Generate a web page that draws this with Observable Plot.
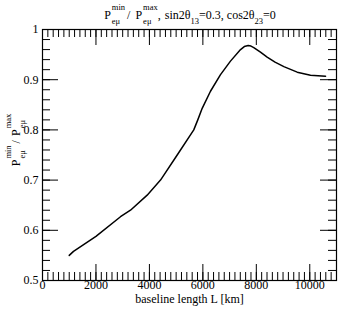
<!DOCTYPE html>
<html><head><meta charset="utf-8">
<script src="https://cdn.jsdelivr.net/npm/d3@7"></script>
<script src="https://cdn.jsdelivr.net/npm/@observablehq/plot@0.6"></script>
<style>body{margin:0;background:#fff} svg{display:block}</style>
</head><body><div id="chart"></div>
<script>
const baseline = [1000,1160,2000,2918,3292,3916,4415,4540,5040,5660,5810,5975,6285,6660,7033,7410,7550,7695,7800,7905,8155,8405,8700,9030,9530,10027,10590];
const ratio    = [0.55,0.558,0.588,0.627,0.64,0.67,0.70,0.71,0.75,0.80,0.82,0.843,0.877,0.91,0.937,0.96,0.966,0.968,0.967,0.964,0.955,0.945,0.935,0.926,0.915,0.909,0.907];
const xMajor = [0,2000,4000,6000,8000,10000];
const yMajor = [0.5,0.6,0.7,0.8,0.9,1];
const xMinor = d3.range(0, 11001, 200);
const yMinor = d3.range(0, 26).map(i => 0.5 + i*0.02);
const xLabel = "baseline length L [km]";

const data = baseline.map((L,i) => ({L, r: ratio[i]}));

const W = 338, H = 309, mL = 42, mR = 2, mT = 29, mB = 29;
const pw = W - mL - mR, ph = H - mT - mB;
const minor = 8, major = 16;

const svg = Plot.plot({
  width: W, height: H, marginLeft: mL, marginRight: mR, marginTop: mT, marginBottom: mB,
  x: {domain: [0, 11000]},
  y: {domain: [0.5, 1]},
  style: {fontFamily: "Liberation Serif", fontSize: "12px", background: "white", color: "black"},
  marks: [
    Plot.ruleX(xMinor, {x: d => d, insetBottom: ph - minor, stroke: "black", strokeWidth: 1}),
    Plot.ruleX(xMinor, {x: d => d, insetTop: ph - minor, stroke: "black", strokeWidth: 1}),
    Plot.ruleX(xMajor, {x: d => d, insetBottom: ph - major, stroke: "black", strokeWidth: 1}),
    Plot.ruleX(xMajor, {x: d => d, insetTop: ph - major, stroke: "black", strokeWidth: 1}),
    Plot.ruleY(yMinor, {y: d => d, insetRight: pw - minor, stroke: "black", strokeWidth: 1}),
    Plot.ruleY(yMinor, {y: d => d, insetLeft: pw - minor, stroke: "black", strokeWidth: 1}),
    Plot.ruleY(yMajor, {y: d => d, insetRight: pw - major, stroke: "black", strokeWidth: 1}),
    Plot.ruleY(yMajor, {y: d => d, insetLeft: pw - major, stroke: "black", strokeWidth: 1}),
    Plot.axisX({ticks: xMajor, tickSize: 0, tickPadding: 0, label: null, tickFormat: d => String(d), fontSize: 12}),
    Plot.axisY({ticks: yMajor, tickSize: 0, tickPadding: 4, label: null, tickFormat: d => String(d), fontSize: 12}),
    Plot.frame({stroke: "black", strokeWidth: 1.2}),
    Plot.line(data, {x: "L", y: "r", stroke: "black", strokeWidth: 1.5}),
    Plot.text([xLabel], {frameAnchor: "bottom", dy: 22.5, fontSize: 12, text: d => d})
  ]
});
document.getElementById("chart").appendChild(svg);

const NS = "http://www.w3.org/2000/svg";
function rich(segs, x, y, rotate) {
  const g = document.createElementNS(NS, "g");
  g.setAttribute("font-family", "Liberation Serif");
  g.setAttribute("fill", "black");
  g.setAttribute("text-anchor", "start");
  svg.appendChild(g);
  let cx = 0;
  function mk(t, size, dy) {
    const e = document.createElementNS(NS, "text");
    e.setAttribute("x", cx); e.setAttribute("y", dy);
    e.setAttribute("font-size", size);
    e.setAttribute("text-anchor", "start");
    e.textContent = t;
    g.appendChild(e);
    return e.getComputedTextLength();
  }
  for (const s of segs) {
    if (typeof s === "string") cx += mk(s, 12, 0);
    else if (s.gap != null) cx += s.gap;
    else {
      let w = 0;
      if (s.sup) w = Math.max(w, mk(s.sup, 8.5, -9));
      if (s.sub) w = Math.max(w, mk(s.sub, 8.5, 5));
      cx += w;
    }
  }
  g.setAttribute("transform", `translate(${x},${y}) rotate(${rotate}) translate(${-cx/2},0)`);
}
rich(["P", {gap: 1}, {sup: "min", sub: "eμ"}, {gap: 2}, "/", {gap: 5}, "P", {gap: 1}, {sup: "max", sub: "eμ"}, ",", {gap: 4},
      "sin2θ", {sub: "13"}, "=0.3,", {gap: 3}, "cos2θ", {sub: "23"}, "=0"], 190, 18.5, 0);
rich(["P", {gap: 1}, {sup: "min", sub: "eμ"}, {gap: 2}, "/", {gap: 4}, "P", {gap: 1}, {sup: "max", sub: "eμ"}], 20, 140, -90);
</script></body></html>
